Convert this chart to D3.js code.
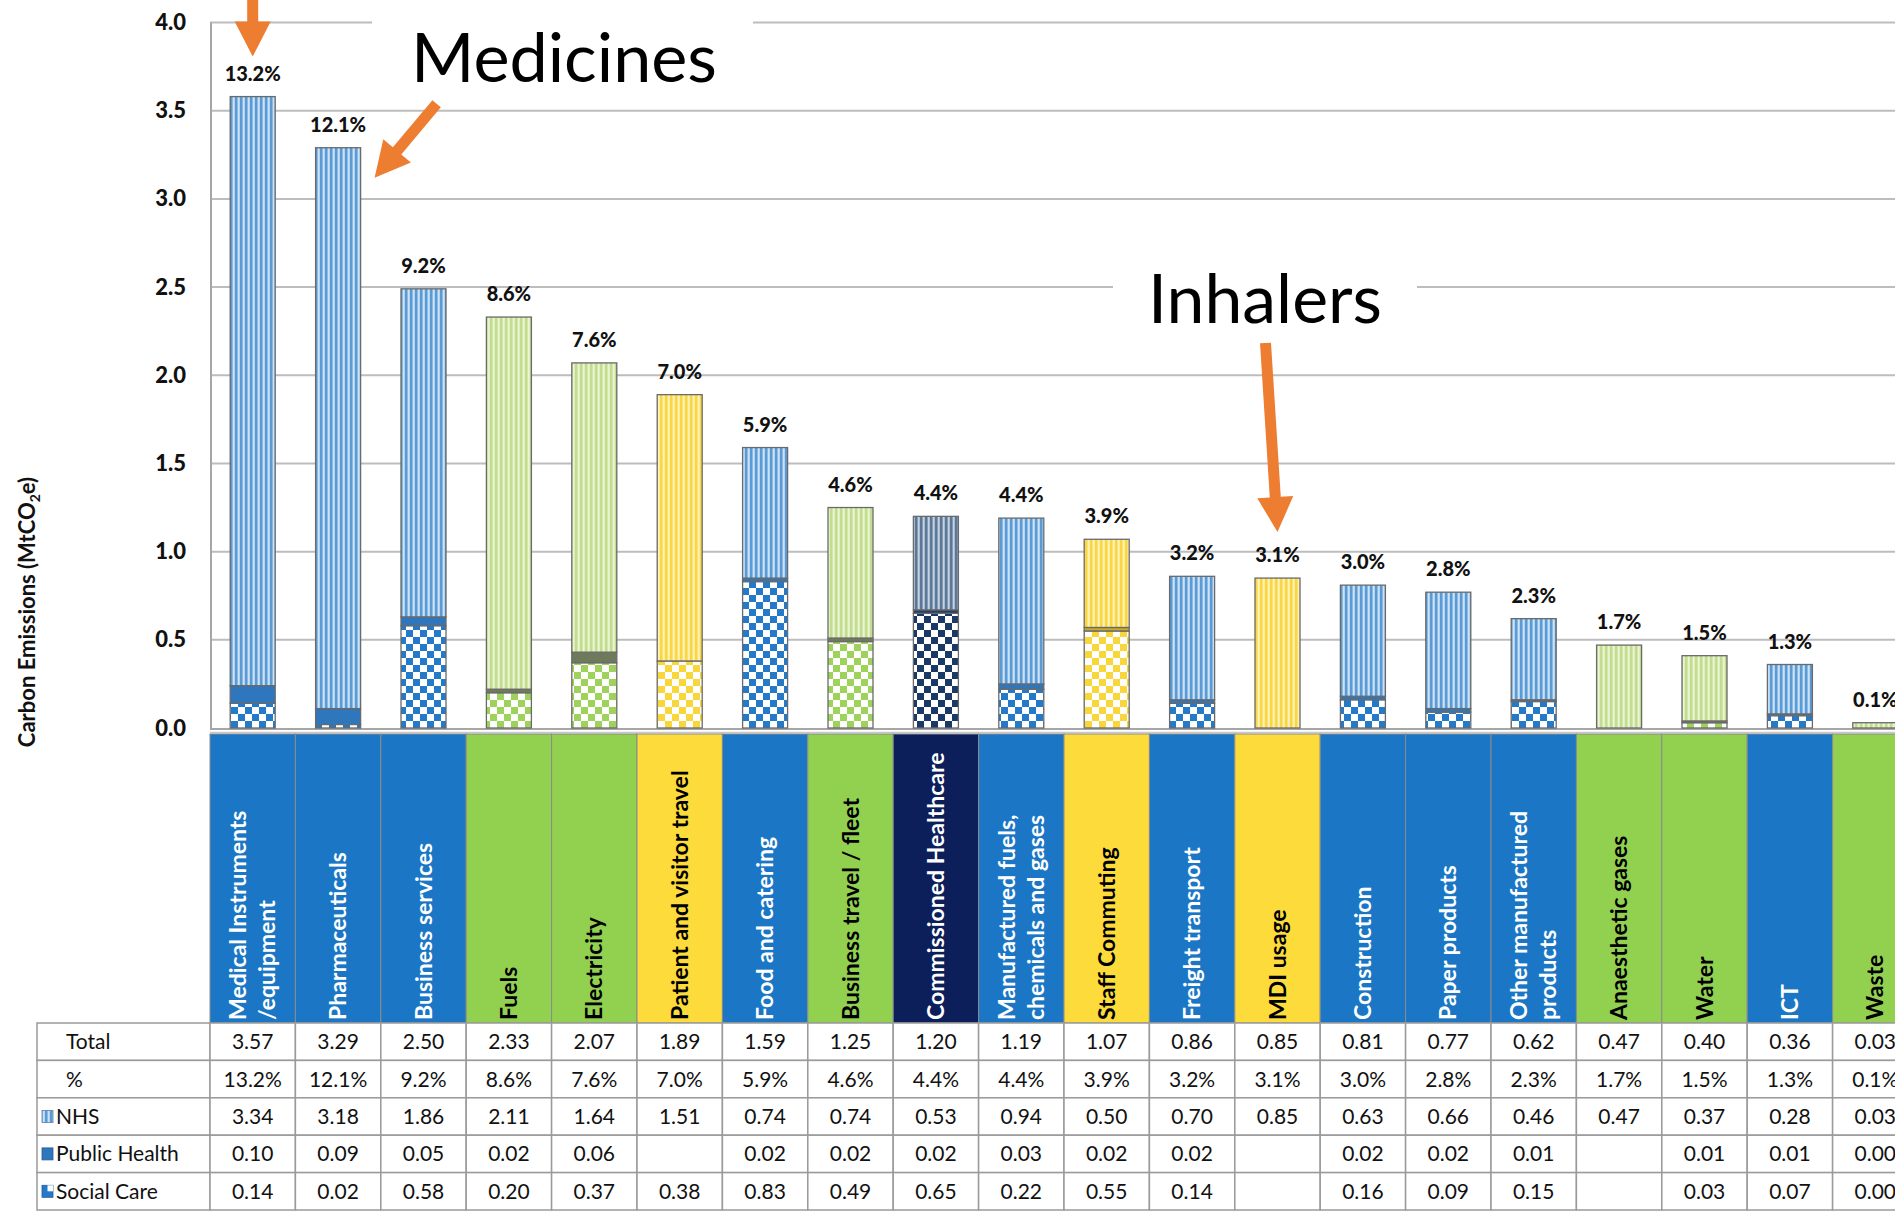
<!DOCTYPE html>
<html><head><meta charset="utf-8">
<script src="https://cdn.jsdelivr.net/npm/d3@7"></script>
<style>body{margin:0;background:#fff;} svg{display:block;}</style>
</head><body><svg id="chart" width="1895" height="1211"></svg>
<script>
// ---------------- DATA ----------------
const categories = [
  "Medical Instruments\n/equipment", "Pharmaceuticals", "Business services", "Fuels", "Electricity",
  "Patient and visitor travel", "Food and catering", "Business travel / fleet", "Commissioned Healthcare",
  "Manufactured fuels,\nchemicals and gases", "Staff Commuting", "Freight transport", "MDI usage",
  "Construction", "Paper products", "Other manufactured\nproducts", "Anaesthetic gases", "Water", "ICT", "Waste"
];
const groups = ["blue","blue","blue","green","green","yellow","blue","green","navy","blue",
                "yellow","blue","yellow","blue","blue","blue","green","green","blue","green"];
const totals   = [3.57,3.29,2.50,2.33,2.07,1.89,1.59,1.25,1.20,1.19,1.07,0.86,0.85,0.81,0.77,0.62,0.47,0.40,0.36,0.03];
const percents = [13.2,12.1,9.2,8.6,7.6,7.0,5.9,4.6,4.4,4.4,3.9,3.2,3.1,3.0,2.8,2.3,1.7,1.5,1.3,0.1];
const nhs          = [3.34,3.18,1.86,2.11,1.64,1.51,0.74,0.74,0.53,0.94,0.50,0.70,0.85,0.63,0.66,0.46,0.47,0.37,0.28,0.03];
const publicHealth = [0.10,0.09,0.05,0.02,0.06,null,0.02,0.02,0.02,0.03,0.02,0.02,null,0.02,0.02,0.01,null,0.01,0.01,0.00];
const socialCare   = [0.14,0.02,0.58,0.20,0.37,0.38,0.83,0.49,0.65,0.22,0.55,0.14,null,0.16,0.09,0.15,null,0.03,0.07,0.00];
const yTicks = [0,0.5,1.0,1.5,2.0,2.5,3.0,3.5,4.0];
const yTitle = "Carbon Emissions (MtCO";
const annotations = [
  {text:"Medicines", cat:"Pharmaceuticals"},
  {text:"Inhalers", cat:"MDI usage"},
  {text:"", cat:"Medical Instruments\n/equipment"}
];

// ---------------- STYLE ----------------
const W = 1895, H = 1211;
const FONT = "Lato, 'Open Sans', sans-serif";
const headerFill = {blue:"#1b77c5", green:"#92d050", yellow:"#fddb3a", navy:"#0d1f5b"};
const headerText = {blue:"#ffffff", green:"#000000", yellow:"#000000", navy:"#ffffff"};
const stripeBase = {blue:"#a9cdee", green:"#dcedb8", yellow:"#fee98c", navy:"#9db2c8"};
const stripeLine = {blue:"#5b9bd5", green:"#c2dd8f", yellow:"#f8d644", navy:"#5d7896"};
const checkColor = {blue:"#2479c9", green:"#9ed25a", yellow:"#f9d63a", navy:"#1a3966"};
const phColor    = {blue:"#2e77bd", green:"#6f7a5c", yellow:"#c8a92c", navy:"#223f66"};
const orange = "#ed7d31";

const svg = d3.select("#chart");
svg.append("rect").attr("width",W).attr("height",H).attr("fill","#fff");
const defs = svg.append("defs");
Object.keys(headerFill).forEach(g => {
  const p = defs.append("pattern").attr("id","stripe-"+g).attr("patternUnits","userSpaceOnUse")
    .attr("width",5).attr("height",10);
  p.append("rect").attr("width",5).attr("height",10).attr("fill",stripeBase[g]);
  p.append("rect").attr("x",0).attr("width",2.4).attr("height",10).attr("fill",stripeLine[g]);
  p.append("rect").attr("x",3.3).attr("width",0.9).attr("height",10).attr("fill","#ffffff").attr("opacity",0.6);
  const c = defs.append("pattern").attr("id","check-"+g).attr("patternUnits","userSpaceOnUse")
    .attr("width",14).attr("height",14);
  c.append("rect").attr("width",14).attr("height",14).attr("fill","#ffffff");
  c.append("rect").attr("width",7).attr("height",7).attr("fill",checkColor[g]);
  c.append("rect").attr("x",7).attr("y",7).attr("width",7).attr("height",7).attr("fill",checkColor[g]);
});

// ---------------- SCALES ----------------
const plotLeft = 210, band = 85.4;
const x = d3.scaleBand().domain(categories).range([plotLeft, plotLeft + band*categories.length]).padding(0);
const y = d3.scaleLinear().domain([0,4]).range([728,22.5]);
const barW = 45;
const cx = c => x(c) + x.bandwidth()/2;

// gridlines
svg.append("g").selectAll("line").data(yTicks.filter(t=>t>0)).join("line")
  .attr("x1",plotLeft).attr("x2",W).attr("y1",d=>y(d)).attr("y2",d=>y(d))
  .attr("stroke","#bdbdbd").attr("stroke-width",2);
// axis line
svg.append("line").attr("x1",plotLeft+1).attr("x2",plotLeft+1).attr("y1",y(4)).attr("y2",y(0))
  .attr("stroke","#a6a6a6").attr("stroke-width",2);
svg.append("line").attr("x1",plotLeft).attr("x2",W).attr("y1",y(0)+1).attr("y2",y(0)+1)
  .attr("stroke","#a6a6a6").attr("stroke-width",2);
svg.append("line").attr("x1",plotLeft).attr("x2",W).attr("y1",y(0)+4.5).attr("y2",y(0)+4.5)
  .attr("stroke","#c8c8c8").attr("stroke-width",1.5);

// tick labels
const yAxis = d3.axisLeft(y).tickValues(yTicks).tickFormat(d3.format(".1f")).tickSize(0).tickPadding(24);
const ax = svg.append("g").attr("transform",`translate(${plotLeft},0)`).call(yAxis);
ax.select(".domain").remove();
ax.selectAll("text").attr("font-family",FONT).attr("font-weight","900").attr("font-size",22).attr("fill","#111");

// y title
const yt = svg.append("text").attr("transform","translate(35,612) rotate(-90)")
  .attr("text-anchor","middle").attr("font-family",FONT).attr("font-weight","bold").attr("font-size",22).attr("fill","#111");
yt.append("tspan").text(yTitle);
yt.append("tspan").text("2").attr("font-size",14).attr("dy",5);
yt.append("tspan").text("e)").attr("dy",-5);

// ---------------- BARS ----------------
const rows = categories.map((c,i)=>({cat:c, group:groups[i], sc:socialCare[i]||0, ph:publicHealth[i]||0, nhs:nhs[i]||0}));
const keys = ["sc","ph","nhs"];
const stacked = d3.stack().keys(keys)(rows);
const fillFor = (k,g) => k==="nhs" ? `url(#stripe-${g})` : k==="sc" ? `url(#check-${g})` : phColor[g];
const barG = svg.append("g");
stacked.forEach(layer => {
  barG.selectAll(null).data(layer.filter(d=>d[1]-d[0]>0)).join("rect")
    .attr("x",d=>cx(d.data.cat)-barW/2).attr("width",barW)
    .attr("y",d=>y(d[1])).attr("height",d=>y(d[0])-y(d[1]))
    .attr("fill",d=>fillFor(layer.key,d.data.group))
    .attr("stroke","#6a6a6a").attr("stroke-width",1.3);
});
// percentage labels
const tops = rows.map(r=>r.sc+r.ph+r.nhs);
svg.append("g").selectAll("text").data(categories).join("text")
  .attr("x",d=>cx(d)).attr("y",(d,i)=>y(tops[i])-16)
  .attr("text-anchor","middle").attr("font-family",FONT).attr("font-weight","900").attr("font-size",20).attr("fill","#111")
  .text((d,i)=>percents[i].toFixed(1)+"%");

// ---------------- HEADER (category labels) ----------------
const headTop = 734, headBot = 1023;
const hg = svg.append("g");
hg.selectAll("rect").data(categories).join("rect")
  .attr("x",d=>x(d)).attr("y",headTop).attr("width",x.bandwidth()).attr("height",headBot-headTop)
  .attr("fill",(d,i)=>headerFill[groups[i]]).attr("stroke","#8a8a8a").attr("stroke-width",1);
categories.forEach((c,i)=>{
  const lines = c.split("\n");
  const lh = 29;
  const t = hg.append("text").attr("transform",`translate(${cx(c)},${headBot-3}) rotate(-90)`)
    .attr("font-family",FONT).attr("font-weight","bold").attr("font-size",23)
    .attr("fill",headerText[groups[i]]);
  lines.forEach((ln,j)=>{
    t.append("tspan").attr("x",0).attr("y", (j-(lines.length-1)/2)*lh + 8).text(ln);
  });
});

// ---------------- TABLE ----------------
const rowTop = headBot, rowH = 37.4, tableLeft = 37;
const fmt2 = v => v==null ? "" : v.toFixed(2);
const tableRows = [
  {label:"Total", vals: totals.map(fmt2)},
  {label:"%", vals: percents.map(v=>v.toFixed(1)+"%")},
  {label:"NHS", icon:"nhs", vals: nhs.map(fmt2)},
  {label:"Public Health", icon:"ph", vals: publicHealth.map(fmt2)},
  {label:"Social Care", icon:"sc", vals: socialCare.map(fmt2)}
];
const tg = svg.append("g");
tableRows.forEach((r,ri)=>{
  const ty = rowTop + ri*rowH;
  tg.append("rect").attr("x",tableLeft).attr("y",ty).attr("width",plotLeft-tableLeft).attr("height",rowH)
    .attr("fill","#fff").attr("stroke","#9a9a9a").attr("stroke-width",1.5);
  categories.forEach((c,ci)=>{
    tg.append("rect").attr("x",x(c)).attr("y",ty).attr("width",x.bandwidth()).attr("height",rowH)
      .attr("fill","#fff").attr("stroke","#9a9a9a").attr("stroke-width",1.5);
    tg.append("text").attr("x",cx(c)).attr("y",ty+rowH/2+7.5).attr("text-anchor","middle")
      .attr("font-family",FONT).attr("font-size",21).attr("fill","#111").text(r.vals[ci]);
  });
  let tx = 66;
  if (r.icon) {
    tx = 56;
    const ix = 42, iy = ty+rowH/2-6;
    if (r.icon==="nhs") {
      tg.append("rect").attr("x",ix).attr("y",iy).attr("width",11).attr("height",12).attr("fill","url(#stripe-blue)").attr("stroke","#5b7fa8").attr("stroke-width",0.8);
    } else if (r.icon==="ph") {
      tg.append("rect").attr("x",ix).attr("y",iy).attr("width",11).attr("height",12).attr("fill","#2e77bd").attr("stroke","#245d96").attr("stroke-width",0.8);
    } else {
      tg.append("rect").attr("x",ix).attr("y",iy).attr("width",11).attr("height",12).attr("fill","#2479c9").attr("stroke","#245d96").attr("stroke-width",0.8);
      tg.append("rect").attr("x",ix+5.5).attr("y",iy).attr("width",5.5).attr("height",6).attr("fill","#fff");
    }
  }
  tg.append("text").attr("x",tx).attr("y",ty+rowH/2+7.5).attr("font-family",FONT).attr("font-size",21).attr("fill","#111").text(r.label);
});

// ---------------- ANNOTATIONS ----------------
function arrow(S, T, shaftW=11, headW=36, headL=35) {
  const dx=T[0]-S[0], dy=T[1]-S[1], len=Math.hypot(dx,dy);
  const u=[dx/len,dy/len], n=[-u[1],u[0]];
  const B=[T[0]-u[0]*headL, T[1]-u[1]*headL];
  const pts=[
    [S[0]+n[0]*shaftW/2, S[1]+n[1]*shaftW/2],
    [B[0]+n[0]*shaftW/2, B[1]+n[1]*shaftW/2],
    [B[0]+n[0]*headW/2, B[1]+n[1]*headW/2],
    T,
    [B[0]-n[0]*headW/2, B[1]-n[1]*headW/2],
    [B[0]-n[0]*shaftW/2, B[1]-n[1]*shaftW/2],
    [S[0]-n[0]*shaftW/2, S[1]-n[1]*shaftW/2]
  ];
  svg.append("polygon").attr("points",pts.map(p=>p.join(",")).join(" ")).attr("fill",orange);
}
function fitText(str, left, baseline, width) {
  const t = svg.append("text").attr("x",left).attr("y",baseline).attr("font-family",FONT)
    .attr("font-size",72).attr("fill","#000").text(str);
  const len = t.node().getComputedTextLength();
  t.attr("font-size", 72*width/len);
  return t;
}
// white knockouts on gridlines
svg.append("rect").attr("x",372).attr("y",8).attr("width",381).attr("height",30).attr("fill","#fff");
svg.append("rect").attr("x",1113).attr("y",272).attr("width",304).attr("height",30).attr("fill","#fff");
fitText(annotations[0].text, 411, 82, 306);
fitText(annotations[1].text, 1148, 323, 234);

// arrows anchored to bars
const iMed = categories.indexOf(annotations[2].cat);
arrow([cx(annotations[2].cat), -12], [cx(annotations[2].cat), y(tops[iMed]) - 40]);
const iPh = categories.indexOf(annotations[0].cat);
const tip2 = [cx(annotations[0].cat)+barW/2+14, y(tops[iPh])+30];
arrow([tip2[0]+62, tip2[1]-74], tip2);
const iMdi = categories.indexOf(annotations[1].cat);
const tip3 = [cx(annotations[1].cat), y(tops[iMdi])-46];
arrow([tip3[0]-12, 343], tip3);
</script></body></html>
